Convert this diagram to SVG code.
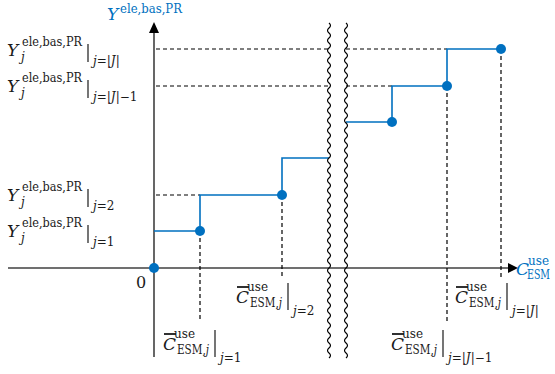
<svg xmlns="http://www.w3.org/2000/svg" width="555" height="374" viewBox="0 0 555 374" font-family="'DejaVu Serif', 'Liberation Serif', serif">
<style>
text{font-family:"DejaVu Serif","Liberation Serif",serif;fill:#1a1a1a}
.big{font-size:17px;font-style:italic}
.sm{font-size:12px}
.it{font-style:italic}
.blue{fill:#0070C0}
.axis{stroke:#404040;stroke-width:1.6;fill:none}
.dash{stroke:#000;stroke-width:1.2;stroke-dasharray:4 3;fill:none}
.step{stroke:#0070C0;stroke-width:1.6;fill:none}
.dot{fill:#0070C0}
.wave{stroke:#000;stroke-width:1.2;fill:none}
.bar{stroke:#1a1a1a;stroke-width:1.2}
.ob{stroke:#1a1a1a;stroke-width:1.8}
</style>
<rect width="555" height="374" fill="#fff"/>
<g id="axes">
<line class="axis" x1="154" y1="32" x2="154" y2="357"/>
<polygon points="154,22 149,33 159,33" fill="#000"/>
<line class="axis" x1="8" y1="268" x2="510" y2="268"/>
<polygon points="518,268 508,263 508,273" fill="#000"/>
</g>
<g id="connectors">
<path class="dash" d="M156,49H329M346,49H447M156,86H329M346,86H392M156,195H200"/>
<path class="dash" d="M200,231V322M282,195V278M447,86V322M501,49V278"/>
<polyline class="step" points="154,231 200,231 200,195 282,195 282,158 329,158"/>
<polyline class="step" points="346,122 392,122 392,86 447,86 447,49 501,49"/>
</g>
<g id="points">
<circle class="dot" cx="154" cy="268" r="5"/>
<circle class="dot" cx="200" cy="231" r="5"/>
<circle class="dot" cx="282" cy="195" r="5"/>
<circle class="dot" cx="392" cy="122" r="5"/>
<circle class="dot" cx="447" cy="86" r="5"/>
<circle class="dot" cx="501" cy="49" r="5"/>
</g>
<g id="break">
<path class="wave" d="M329,23 q3,2.5 0,5 t0,5 t0,5 t0,5 t0,5 t0,5 t0,5 t0,5 t0,5 t0,5 t0,5 t0,5 t0,5 t0,5 t0,5 t0,5 t0,5 t0,5 t0,5 t0,5 t0,5 t0,5 t0,5 t0,5 t0,5 t0,5 t0,5 t0,5 t0,5 t0,5 t0,5 t0,5 t0,5 t0,5 t0,5 t0,5 t0,5 t0,5 t0,5 t0,5 t0,5 t0,5 t0,5 t0,5 t0,5 t0,5 t0,5 t0,5 t0,5 t0,5 t0,5 t0,5 t0,5 t0,5 t0,5 t0,5 t0,5 t0,5 t0,5 t0,5 t0,5 t0,5 t0,5 t0,5 t0,5 t0,5 t0,5"/>
<path class="wave" d="M346,23 q3,2.5 0,5 t0,5 t0,5 t0,5 t0,5 t0,5 t0,5 t0,5 t0,5 t0,5 t0,5 t0,5 t0,5 t0,5 t0,5 t0,5 t0,5 t0,5 t0,5 t0,5 t0,5 t0,5 t0,5 t0,5 t0,5 t0,5 t0,5 t0,5 t0,5 t0,5 t0,5 t0,5 t0,5 t0,5 t0,5 t0,5 t0,5 t0,5 t0,5 t0,5 t0,5 t0,5 t0,5 t0,5 t0,5 t0,5 t0,5 t0,5 t0,5 t0,5 t0,5 t0,5 t0,5 t0,5 t0,5 t0,5 t0,5 t0,5 t0,5 t0,5 t0,5 t0,5 t0,5 t0,5 t0,5 t0,5 t0,5"/>
</g>
<g id="y-axis-label">
<text class="big blue" x="107" y="20">Y</text>
<text class="sm blue" x="120" y="13" textLength="62" lengthAdjust="spacingAndGlyphs">ele,bas,PR</text>
</g>
<g id="x-axis-label">
<text class="big blue" x="516" y="275">C</text>
<text class="sm blue" x="528" y="265" textLength="21" lengthAdjust="spacingAndGlyphs">use</text>
<text class="sm blue" x="527" y="279" textLength="23" lengthAdjust="spacingAndGlyphs">ESM</text>
</g>
<text id="origin" x="136" y="288" style="font-size:16px">0</text>
<g id="ylabel-J" transform="translate(0,0)">
<text class="big" x="7" y="56">Y</text>
<text class="sm" x="22" y="46" textLength="60" lengthAdjust="spacingAndGlyphs">ele,bas,PR</text>
<text class="sm it" x="21" y="61">j</text>
<line class="bar" x1="88" y1="44" x2="88" y2="62"/>
<text class="sm" x="93" y="65"><tspan class="it">j</tspan>=|<tspan class="it">J</tspan>|</text>
</g>
<g id="ylabel-Jm1" transform="translate(0,36)">
<text class="big" x="7" y="56">Y</text>
<text class="sm" x="22" y="46" textLength="60" lengthAdjust="spacingAndGlyphs">ele,bas,PR</text>
<text class="sm it" x="21" y="61">j</text>
<line class="bar" x1="88" y1="44" x2="88" y2="62"/>
<text class="sm" x="93" y="65"><tspan class="it">j</tspan>=|<tspan class="it">J</tspan>|−1</text>
</g>
<g id="ylabel-2" transform="translate(0,145)">
<text class="big" x="7" y="56">Y</text>
<text class="sm" x="22" y="46" textLength="60" lengthAdjust="spacingAndGlyphs">ele,bas,PR</text>
<text class="sm it" x="21" y="61">j</text>
<line class="bar" x1="88" y1="44" x2="88" y2="62"/>
<text class="sm" x="93" y="65"><tspan class="it">j</tspan>=2</text>
</g>
<g id="ylabel-1" transform="translate(0,181)">
<text class="big" x="7" y="56">Y</text>
<text class="sm" x="22" y="46" textLength="60" lengthAdjust="spacingAndGlyphs">ele,bas,PR</text>
<text class="sm it" x="21" y="61">j</text>
<line class="bar" x1="88" y1="44" x2="88" y2="62"/>
<text class="sm" x="93" y="65"><tspan class="it">j</tspan>=1</text>
</g>
<g id="clabel-1" transform="translate(0,0)">
<line class="ob" x1="164" y1="334" x2="176" y2="334"/>
<text class="big" x="163" y="350">C</text>
<text class="sm" x="174" y="338">use</text>
<text class="sm" x="177" y="354" textLength="32" lengthAdjust="spacingAndGlyphs">ESM,<tspan class="it">j</tspan></text>
<line class="bar" x1="215" y1="330" x2="215" y2="357"/>
<text class="sm" x="220" y="362"><tspan class="it">j</tspan>=1</text>
</g>
<g id="clabel-2" transform="translate(73,-47)">
<line class="ob" x1="164" y1="334" x2="176" y2="334"/>
<text class="big" x="163" y="350">C</text>
<text class="sm" x="174" y="338">use</text>
<text class="sm" x="177" y="354" textLength="32" lengthAdjust="spacingAndGlyphs">ESM,<tspan class="it">j</tspan></text>
<line class="bar" x1="215" y1="330" x2="215" y2="357"/>
<text class="sm" x="220" y="362"><tspan class="it">j</tspan>=2</text>
</g>
<g id="clabel-J" transform="translate(292,-47)">
<line class="ob" x1="164" y1="334" x2="176" y2="334"/>
<text class="big" x="163" y="350">C</text>
<text class="sm" x="174" y="338">use</text>
<text class="sm" x="177" y="354" textLength="32" lengthAdjust="spacingAndGlyphs">ESM,<tspan class="it">j</tspan></text>
<line class="bar" x1="215" y1="330" x2="215" y2="357"/>
<text class="sm" x="220" y="362"><tspan class="it">j</tspan>=|<tspan class="it">J</tspan>|</text>
</g>
<g id="clabel-Jm1" transform="translate(228,0)">
<line class="ob" x1="164" y1="334" x2="176" y2="334"/>
<text class="big" x="163" y="350">C</text>
<text class="sm" x="174" y="338">use</text>
<text class="sm" x="177" y="354" textLength="32" lengthAdjust="spacingAndGlyphs">ESM,<tspan class="it">j</tspan></text>
<line class="bar" x1="215" y1="330" x2="215" y2="357"/>
<text class="sm" x="220" y="362"><tspan class="it">j</tspan>=|<tspan class="it">J</tspan>|−1</text>
</g>
</svg>
